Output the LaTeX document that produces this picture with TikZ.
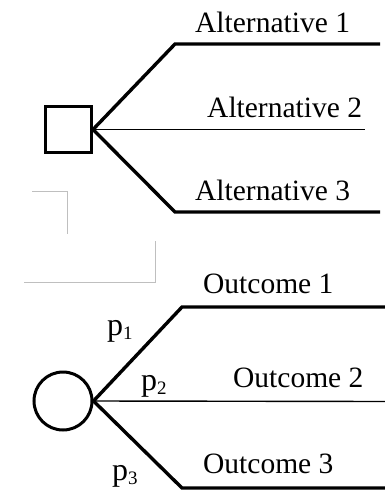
\documentclass[tikz,border=0pt]{standalone}
\usepackage{fontspec}
\setmainfont{Liberation Serif}
\newcommand{\psub}[1]{\raisebox{-4.5pt}{\fontsize{19}{19}\selectfont #1}}
\begin{document}
\begin{tikzpicture}[x=1pt,y=-1pt,
  thickline/.style={line width=3.4pt,line join=miter},
  thinline/.style={line width=1.4pt},
  lbl/.style={anchor=base west,inner sep=0pt,font=\fontsize{29.5}{34}\selectfont},
  plbl/.style={anchor=base west,inner sep=0pt,font=\fontsize{32}{36}\selectfont},
  stray/.style={line width=1pt,draw=black!25}]
\useasboundingbox (0,0) rectangle (385,491);

% decision node and its alternatives
\node[draw,line width=3pt,minimum size=46pt,inner sep=0pt] (dec) at (68.5,129.5) {};
\coordinate (a1k) at (175,44);
\coordinate (a1e) at (380,44);
\coordinate (a3k) at (175,212);
\coordinate (a3e) at (380,212);
\coordinate (a2e) at (365,129.5);
\draw[thickline] (dec.east) -- (a1k) -- (a1e);
\draw[thickline] (dec.east) -- (a3k) -- (a3e);
\draw[thinline] (dec.east) -- (a2e);
\node[lbl] (t1) at (195,32) {Alternative 1};
\node[lbl] (t2) at (207,117) {Alternative 2};
\node[lbl] (t3) at (195,200) {Alternative 3};

% light guide strokes
\draw[stray] (32,191) -- (67,191) -- (67,234);
\draw[stray] (155,241) -- (155,282) -- (24,282);

% chance node and its outcomes
\node[draw,circle,line width=3pt,minimum size=58pt,inner sep=0pt] (ch) at (63,401) {};
\coordinate (o1k) at (182,307);
\coordinate (o1e) at (386,307);
\coordinate (o3k) at (182,488);
\coordinate (o3e) at (386,488);
\coordinate (o2e) at (386,401.5);
\draw[thickline] (ch.east) -- (o1k) -- (o1e);
\draw[thickline] (ch.east) -- (o3k) -- (o3e);
\draw[thinline] (ch.east) -- (o2e);
\node[lbl] (u1) at (203,293) {Outcome 1};
\node[lbl] (u2) at (233,387) {Outcome 2};
\node[lbl] (u3) at (203,473) {Outcome 3};

% branch probabilities
\node[plbl] (p1) at (107,335) {p\psub{1}};
\node[plbl] (p2) at (141,390) {p\psub{2}};
\node[plbl] (p3) at (112,480) {p\psub{3}};
\end{tikzpicture}
\end{document}
